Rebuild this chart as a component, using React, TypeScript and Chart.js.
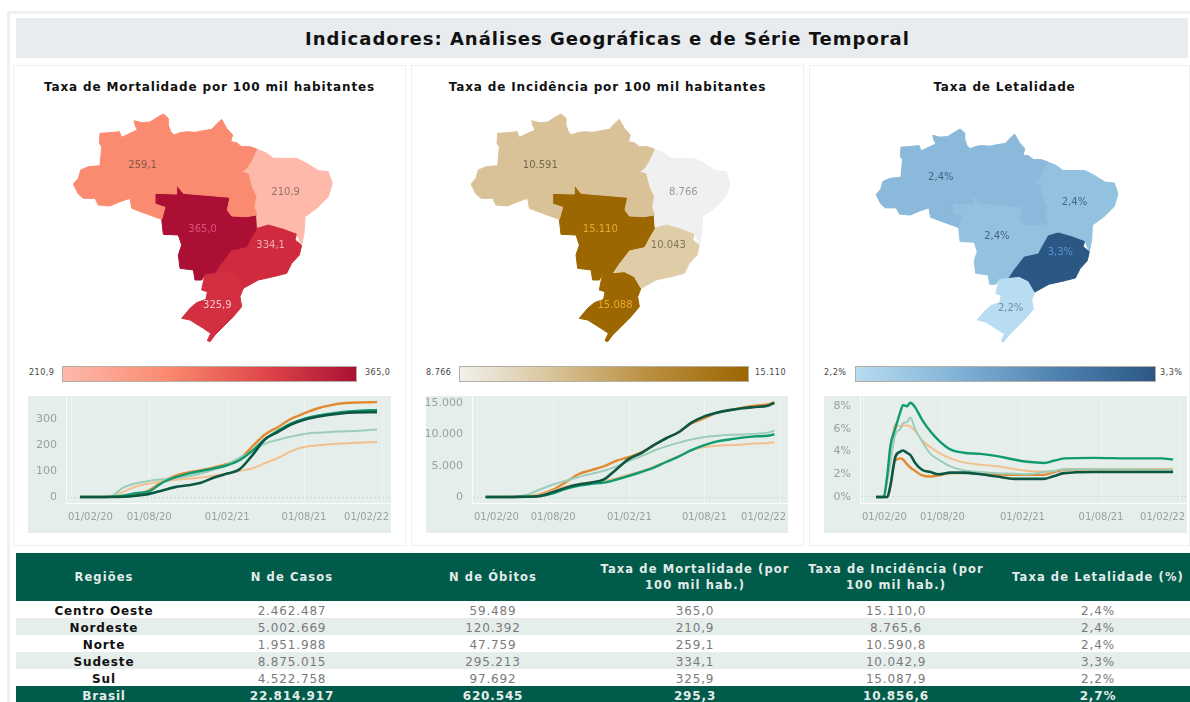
import React, { useEffect, useRef } from "react";
import { Chart, registerables } from "chart.js";

Chart.register(...registerables);

// ---------- Table data ----------
const regions = ["Centro Oeste", "Nordeste", "Norte", "Sudeste", "Sul"];
const casesCol = ["2.462.487", "5.002.669", "1.951.988", "8.875.015", "4.522.758"];
const deathsCol = ["59.489", "120.392", "47.759", "295.213", "97.692"];
const mortalityCol = ["365,0", "210,9", "259,1", "334,1", "325,9"];
const incidenceCol = ["15.110,0", "8.765,6", "10.590,8", "10.042,9", "15.087,9"];
const lethalityCol = ["2,4%", "2,4%", "2,4%", "3,3%", "2,2%"];
const totalRow = ["Brasil", "22.814.917", "620.545", "295,3", "10.856,6", "2,7%"];
const tableHeaders = [
  "Regiões",
  "N de Casos",
  "N de Óbitos",
  "Taxa de Mortalidade (por 100 mil hab.)",
  "Taxa de Incidência (por 100 mil hab.)",
  "Taxa de Letalidade (%)",
];

// ---------- Time series ----------
const xTickDays = [0, 182, 366, 547, 731];
const xTickLabels = ["01/02/20", "01/08/20", "01/02/21", "01/08/21", "01/02/22"];

const mortalityDays = [19, 60, 90, 120, 150, 182, 213, 243, 274, 304, 335, 366, 394, 425, 455, 486, 516, 547, 578, 608, 639, 669, 700, 719];
const mortalityCO = [0, 0, 1, 3, 8, 26, 58, 81, 94, 103, 114, 127, 145, 194, 240, 269, 300, 321, 340, 352, 360, 363, 364, 365];
const mortalityNE = [0, 0, 1, 20, 40, 52, 60, 66, 70, 75, 82, 90, 100, 110, 130, 150, 175, 192, 198, 203, 206, 208, 210, 211];
const mortalityN = [0, 0, 2, 35, 52, 62, 68, 74, 80, 90, 105, 125, 150, 175, 205, 220, 232, 242, 247, 250, 252, 254, 257, 259];
const mortalitySE = [0, 0, 1, 5, 15, 22, 55, 75, 90, 100, 110, 122, 140, 178, 222, 255, 282, 300, 312, 320, 327, 331, 333, 334];
const mortalityS = [0, 0, 0, 1, 5, 12, 25, 38, 45, 55, 75, 90, 105, 160, 222, 250, 278, 297, 308, 316, 322, 325, 326, 326];

const incidenceDays = [19, 60, 90, 120, 150, 182, 213, 243, 274, 304, 335, 366, 394, 425, 455, 486, 516, 547, 578, 608, 639, 669, 700, 716];
const incidenceCO = [0, 0, 30, 100, 430, 1180, 2400, 3640, 4300, 4900, 5800, 6400, 7100, 8300, 9400, 10400, 11800, 12600, 13500, 13900, 14300, 14600, 14800, 15110];
const incidenceNE = [0, 0, 30, 100, 350, 1000, 1700, 2100, 2400, 2600, 3000, 3600, 4100, 4900, 5700, 6600, 7500, 8000, 8200, 8300, 8400, 8550, 8650, 8766];
const incidenceN = [0, 0, 60, 400, 1200, 2000, 2600, 3200, 3700, 4200, 4900, 5800, 6500, 7400, 8100, 8700, 9200, 9600, 9800, 9950, 10000, 10100, 10300, 10591];
const incidenceSE = [0, 0, 10, 30, 150, 600, 1300, 1800, 2100, 2300, 2800, 3400, 4000, 4700, 5600, 6500, 7500, 8300, 8900, 9200, 9500, 9700, 9800, 10043];
const incidenceS = [0, 0, 10, 30, 150, 800, 1500, 2000, 2300, 2800, 4450, 6150, 7000, 8300, 9400, 10400, 11900, 12900, 13500, 13900, 14200, 14400, 14600, 15088];

const lethalityDays = [29, 46, 55, 62, 73, 85, 91, 100, 108, 119, 135, 154, 173, 200, 231, 270, 308, 347, 378, 416, 439, 462, 531, 608, 686, 713];
const lethalityCO = [0, 0, 0, 1, 3.2, 3.4, 3.3, 2.9, 2.6, 2.3, 1.9, 1.8, 1.9, 2.1, 2.1, 2.1, 2.0, 1.95, 1.95, 1.95, 2.2, 2.4, 2.45, 2.45, 2.45, 2.4];
const lethalityNE = [0, 0, 1.5, 4, 6.4, 6.2, 6.3, 6.3, 6.2, 5.8, 5, 4.4, 3.9, 3.4, 3.05, 2.85, 2.7, 2.45, 2.3, 2.25, 2.3, 2.45, 2.45, 2.45, 2.45, 2.4];
const lethalityN = [0, 0, 1.5, 3, 5.5, 6, 6.5, 6.6, 7.0, 6, 4.9, 3.8, 3.3, 2.7, 2.35, 2.2, 2.1, 2.05, 2.0, 2.2, 2.3, 2.45, 2.45, 2.45, 2.4, 2.4];
const lethalitySE = [0, 0, 2, 4.5, 6, 7.5, 8.1, 8, 8.3, 7.9, 6.8, 5.8, 5, 4.2, 3.9, 3.8, 3.6, 3.3, 3.1, 3.0, 3.2, 3.4, 3.45, 3.4, 3.4, 3.3];
const lethalityS = [0, 0, 0, 1, 3.5, 4, 4.1, 3.9, 3.7, 3, 2.4, 2.2, 2, 2.15, 2.15, 2, 1.8, 1.6, 1.6, 1.6, 1.85, 2.1, 2.2, 2.2, 2.2, 2.2];

// ---------- Region outlines (map units, y grows southwards) ----------
const outlineNorte = [
  [240, 100], [270, 98], [298, 95], [305, 112], [330, 100], [352, 90], [345, 75], [342, 62], [365, 68], [390, 66], [412, 52], [430, 42], [445, 55], [445, 75], [452, 95], [462, 105], [480, 98], [500, 95], [525, 97], [550, 92], [575, 88], [590, 72], [605, 58], [620, 85], [638, 105], [632, 125], [650, 128], [665, 140], [690, 140], [710, 147],
  [695, 180], [680, 205], [665, 215], [685, 222], [690, 245], [695, 262], [708, 290], [702, 320], [710, 345], [680, 350], [635, 348], [622, 330], [630, 292], [490, 280], [470, 255], [470, 282], [405, 280], [405, 312], [435, 322], [425, 358], [375, 340], [335, 325], [330, 295], [300, 305], [270, 318], [235, 315], [225, 295], [190, 295], [175, 282], [160, 252], [175, 235], [182, 210], [205, 200], [240, 197], [245, 140], [238, 130],
];
const outlineNordeste = [
  [710, 147], [740, 160], [760, 175], [830, 175], [860, 190], [895, 212], [925, 215], [937, 250], [925, 290], [890, 325], [855, 350], [852, 400], [845, 435], [830, 400], [790, 385], [745, 372], [712, 382], [710, 345], [702, 320], [708, 290], [695, 262], [690, 245], [685, 222], [665, 215], [680, 205], [695, 180],
];
const outlineCentroOeste = [
  [405, 280], [470, 282], [470, 255], [490, 280], [630, 292], [622, 330], [635, 348], [680, 350], [710, 345], [712, 382], [690, 420], [680, 440], [635, 450], [600, 495], [585, 518], [555, 522], [545, 540], [525, 540], [520, 510], [480, 505], [475, 465], [485, 435], [475, 405], [430, 403], [425, 358], [435, 322], [405, 312],
];
const outlineSudeste = [
  [712, 382], [745, 372], [790, 385], [830, 400], [825, 420], [845, 435], [838, 465], [815, 490], [800, 520], [760, 530], [715, 540], [670, 565], [650, 530], [620, 515], [585, 518], [600, 495], [635, 450], [680, 440], [690, 420],
];
const outlineSul = [
  [555, 522], [585, 518], [620, 515], [650, 530], [670, 565], [660, 590], [665, 620], [640, 650], [610, 680], [585, 705], [570, 725], [562, 722], [572, 700], [550, 685], [510, 660], [485, 655], [510, 625], [530, 608], [558, 598], [562, 575], [545, 570], [550, 545],
];
const outlines = [outlineNorte, outlineNordeste, outlineCentroOeste, outlineSudeste, outlineSul];

const labelAnchors = [[368, 197], [797, 277], [548, 388], [752, 437], [592, 617]];
const mortalityMapLabels = ["259,1", "210,9", "365,0", "334,1", "325,9"];
const incidenceMapLabels = ["10.591", "8.766", "15.110", "10.043", "15.088"];
const lethalityMapLabels = ["2,4%", "2,4%", "2,4%", "3,3%", "2,2%"];

const FONT = '"DejaVu Sans", sans-serif';
const seriesColors = { co: "#E38A2E", ne: "#F3C08C", n: "#9CCDBB", se: "#109A70", s: "#0B5743" };

const polygonPlugin = {
  id: "polygonFill",
  beforeDatasetDraw(chart: any, args: any) {
    const ds = chart.data.datasets[args.index];
    if (!ds.closedShape) return;
    const pts = chart.getDatasetMeta(args.index).data;
    const ctx = chart.ctx;
    ctx.save();
    ctx.beginPath();
    pts.forEach((p: any, i: number) => (i ? ctx.lineTo(p.x, p.y) : ctx.moveTo(p.x, p.y)));
    ctx.closePath();
    ctx.fillStyle = ds.shapeColor;
    ctx.strokeStyle = ds.shapeColor;
    ctx.lineWidth = 1;
    ctx.fill();
    ctx.stroke();
    ctx.restore();
  },
  afterDatasetsDraw(chart: any) {
    chart.data.datasets.forEach((ds: any, i: number) => {
      if (!ds.valueLabels) return;
      const ctx = chart.ctx;
      ctx.save();
      ctx.font = `10px ${FONT}`;
      ctx.textAlign = "center";
      ctx.textBaseline = "middle";
      chart.getDatasetMeta(i).data.forEach((p: any, k: number) => {
        ctx.fillStyle = ds.valueColors[k];
        ctx.fillText(ds.valueLabels[k], p.x, p.y);
      });
      ctx.restore();
    });
  },
};

function MapChart({ box, range, colors, labels, labelColors }: any) {
  const ref = useRef<HTMLCanvasElement>(null);
  useEffect(() => {
    const toPts = (a: number[][]) => a.map(([x, y]) => ({ x, y }));
    const chart = new Chart(ref.current!, {
      type: "scatter",
      data: {
        datasets: [
          ...outlines.map((o, i) => ({
            data: toPts(o),
            closedShape: true,
            shapeColor: colors[i],
            pointRadius: 0,
            showLine: false,
          })),
          {
            data: toPts(labelAnchors),
            valueLabels: labels,
            valueColors: labelColors,
            pointRadius: 0,
            showLine: false,
          },
        ] as any,
      },
      options: {
        animation: false,
        responsive: false,
        events: [],
        layout: { padding: 0 },
        plugins: { legend: { display: false }, tooltip: { enabled: false } },
        scales: {
          x: { type: "linear", display: false, min: range[0], max: range[1] },
          y: { type: "linear", display: false, min: range[2], max: range[3], reverse: true },
        },
      },
      plugins: [polygonPlugin],
    });
    return () => chart.destroy();
  }, []);
  return (
    <canvas
      ref={ref}
      width={box[2]}
      height={box[3]}
      style={{ position: "absolute", left: box[0], top: box[1], width: box[2], height: box[3] }}
    />
  );
}

// Keeps the first and last date label inside the plot area, the way the original axis does.
function clampLabels(scale: any) {
  const original = scale._computeLabelItems;
  scale._computeLabelItems = function (area: any) {
    const items = original.call(this, area);
    const ctx = this.ctx;
    items.forEach((it: any) => {
      ctx.save();
      ctx.font = it.font.string;
      const half = ctx.measureText(it.label).width / 2;
      ctx.restore();
      const t = it.options.translation;
      t[0] = Math.min(Math.max(t[0], this.left + half + 2), this.right - half - 2);
    });
    return items;
  };
}

function LineChart({ box, plotLeft, xRange, yRange, yTicks, yFormat, days, co, ne, n, se, s }: any) {
  const ref = useRef<HTMLCanvasElement>(null);
  useEffect(() => {
    const mk = (vals: number[], color: string, width: number) => ({
      data: days.map((d: number, i: number) => ({ x: d, y: vals[i] })),
      borderColor: color,
      borderWidth: width,
      pointRadius: 0,
      cubicInterpolationMode: "monotone",
    });
    const chart = new Chart(ref.current!, {
      type: "line",
      data: {
        datasets: [
          mk(s, seriesColors.s, 2.6),
          mk(se, seriesColors.se, 2.4),
          mk(n, seriesColors.n, 2),
          mk(ne, seriesColors.ne, 2),
          mk(co, seriesColors.co, 2.4),
        ] as any,
      },
      options: {
        animation: false,
        responsive: false,
        events: [],
        layout: { padding: 0 },
        plugins: { legend: { display: false }, tooltip: { enabled: false } },
        scales: {
          x: {
            type: "linear",
            min: xRange[0],
            max: xRange[1],
            afterBuildTicks: (sc: any) => {
              sc.ticks = xTickDays.map((value) => ({ value }));
              if (!sc._clamped) {
                sc._clamped = true;
                clampLabels(sc);
              }
            },
            afterFit: (sc: any) => {
              sc.height = 30;
              sc.paddingLeft = 0;
              sc.paddingRight = 0;
            },
            grid: { color: "rgba(255,255,255,0.35)", drawTicks: false },
            border: { display: true, color: "rgba(255,255,255,0.9)" },
            ticks: {
              autoSkip: false,
              maxRotation: 0,
              padding: 8,
              color: "#9a9f9f",
              font: { family: FONT, size: 10 },
              callback: (v: any) => xTickLabels[xTickDays.indexOf(v)],
            },
          },
          y: {
            type: "linear",
            min: yRange[0],
            max: yRange[1],
            afterBuildTicks: (sc: any) => {
              sc.ticks = yTicks.map((value: number) => ({ value }));
            },
            afterFit: (sc: any) => {
              sc.width = plotLeft;
              sc.paddingTop = 0;
              sc.paddingBottom = 0;
            },
            grid: {
              color: (c: any) => (c.tick && c.tick.value === 0 ? "#c2c8c6" : "rgba(0,0,0,0)"),
              drawTicks: false,
            },
            border: { display: true, color: "rgba(255,255,255,0.9)", dash: [1, 3] },
            ticks: {
              padding: 9,
              color: "#9a9f9f",
              font: { family: FONT, size: 11 },
              callback: (v: any) => yFormat(v),
            },
          },
        },
      },
    });
    return () => chart.destroy();
  }, []);
  return (
    <canvas
      ref={ref}
      width={box[2]}
      height={box[3]}
      style={{ position: "absolute", left: box[0], top: box[1], width: box[2], height: box[3], background: "#E6EEEC" }}
    />
  );
}

const abs = (l: number, t: number, w: number, h: number, extra: any = {}) => ({
  position: "absolute" as const,
  left: l,
  top: t,
  width: w,
  height: h,
  boxSizing: "border-box" as const,
  ...extra,
});

function Card({ l, w, title, shift = 0 }: any) {
  return (
    <>
      <div style={abs(l, 65, w, 481, { background: "#fff", border: "1px solid #EDF0F2" })} />
      <div
        style={abs(l + shift, 79, w, 16, {
          textAlign: "center",
          font: `bold 12px ${FONT}`,
          lineHeight: "16px",
          letterSpacing: "0.85px",
          color: "#111",
          whiteSpace: "nowrap",
        })}
      >
        {title}
      </div>
    </>
  );
}

function ColorBar({ l, w, gradient, minLabel, maxLabel, minX, maxX }: any) {
  const small = { font: `8px ${FONT}`, lineHeight: "12px", letterSpacing: "0.5px", color: "#444", whiteSpace: "nowrap" };
  return (
    <>
      <div
        style={abs(l, 366, w, 16, {
          background: `linear-gradient(to right, ${gradient})`,
          border: "1px solid #b5aea4",
        })}
      />
      <div style={abs(minX, 367, 34, 12, small)}>{minLabel}</div>
      <div style={abs(maxX, 367, 36, 12, small)}>{maxLabel}</div>
    </>
  );
}

const columnWidths = [176, 200, 202, 202, 200, 204];

export default function App() {
  const th: any = {
    background: "#005B4A",
    color: "#E4ECE9",
    font: `bold 11.5px ${FONT}`,
    letterSpacing: "1.1px",
    textAlign: "center",
    padding: "0 2px",
    lineHeight: "16px",
    height: 48,
  };
  const td = (i: number, band: boolean): any => ({
    background: band ? "#E6EEEC" : "#fff",
    color: i === 0 ? "#111" : "#7a7a7a",
    font: `${i === 0 ? "bold " : ""}12px ${FONT}`,
    letterSpacing: "0.85px",
    textAlign: "center",
    padding: "4px 0 0",
    boxSizing: "border-box",
    height: 17,
    lineHeight: "13px",
  });
  const rows = regions.map((r, i) => [r, casesCol[i], deathsCol[i], mortalityCol[i], incidenceCol[i], lethalityCol[i]]);

  return (
    <>
      <style>{`html,body{margin:0;padding:0;overflow:hidden;background:#fff}`}</style>
      <div style={{ ...abs(0, 0, 1190, 702), overflow: "hidden", background: "#fff", filter: "blur(0.45px)" }}>
        <div style={abs(7, 11, 1190, 700, { border: "3px solid #EEF1F3" })} />
        <div
          style={abs(16, 18, 1172, 40, {
            background: "#E9ECEF",
            textAlign: "center",
            font: `bold 18px ${FONT}`,
            letterSpacing: "1px",
            lineHeight: "42px",
            color: "#111",
            paddingLeft: 11,
            whiteSpace: "nowrap",
          })}
        >
          Indicadores: Análises Geográficas e de Série Temporal
        </div>

        <Card l={13} w={393} title="Taxa de Mortalidade por 100 mil habitantes" />
        <Card l={411} w={393} title="Taxa de Incidência por 100 mil habitantes" />
        <Card l={809} w={381} title="Taxa de Letalidade" shift={5} />

        <MapChart
          box={[20, 100, 380, 260]}
          range={[0, 1140, 0, 780]}
          colors={["#FB8B70", "#FEB9AB", "#AB1034", "#CF2A3E", "#D22F41"]}
          labels={mortalityMapLabels}
          labelColors={["#85594C", "#9A7068", "#E0507A", "#F2B0B8", "#F6C4C8"]}
        />
        <MapChart
          box={[420, 100, 370, 260]}
          range={[7, 1117, 0, 780]}
          colors={["#D9C297", "#F0F0F0", "#9C6600", "#DFCDA8", "#9C6600"]}
          labels={incidenceMapLabels}
          labelColors={["#75664C", "#999999", "#E8A830", "#85755A", "#E8A830"]}
        />
        <MapChart
          box={[815, 115, 370, 240]}
          range={[-36, 1152, -3, 767]}
          colors={["#8BB9DB", "#93C1E0", "#93C1E0", "#2B5785", "#B8DCF1"]}
          labels={lethalityMapLabels}
          labelColors={["#456584", "#456584", "#456584", "#5A90CC", "#728FA2"]}
        />

        <ColorBar l={62} w={295} gradient="#FEB9AB, #FB8B70 35%, #E0484A 68%, #AB1034" minLabel="210,9" maxLabel="365,0" minX={29} maxX={365} />
        <ColorBar l={459} w={290} gradient="#F2F0EC, #DAC79F 30%, #BA9040 65%, #9C6600" minLabel="8.766" maxLabel="15.110" minX={426} maxX={755} />
        <ColorBar l={855} w={301} gradient="#B8DCF1, #7FB1D6 35%, #4F81AE 68%, #2B5785" minLabel="2,2%" maxLabel="3,3%" minX={824} maxX={1160} />

        <LineChart
          box={[28, 396, 363, 137]}
          plotLeft={38}
          xRange={[-14, 752]}
          yRange={[-23, 388]}
          yTicks={[0, 100, 200, 300]}
          yFormat={(v: number) => String(v)}
          days={mortalityDays}
          co={mortalityCO}
          ne={mortalityNE}
          n={mortalityN}
          se={mortalitySE}
          s={mortalityS}
        />
        <LineChart
          box={[426, 396, 362, 137]}
          plotLeft={46}
          xRange={[-14, 749]}
          yRange={[-960, 16160]}
          yTicks={[0, 5000, 10000, 15000]}
          yFormat={(v: number) => (v === 0 ? "0" : `${v / 1000}.000`)}
          days={incidenceDays}
          co={incidenceCO}
          ne={incidenceNE}
          n={incidenceN}
          se={incidenceSE}
          s={incidenceS}
        />
        <LineChart
          box={[824, 396, 363, 137]}
          plotLeft={36}
          xRange={[-8, 745]}
          yRange={[-0.53, 8.9]}
          yTicks={[0, 2, 4, 6, 8]}
          yFormat={(v: number) => `${v}%`}
          days={lethalityDays}
          co={lethalityCO}
          ne={lethalityNE}
          n={lethalityN}
          se={lethalitySE}
          s={lethalityS}
        />

        <div style={abs(16, 553, 1174, 149, { overflow: "hidden" })}>
          <table style={{ borderCollapse: "collapse", tableLayout: "fixed", width: columnWidths.reduce((a, b) => a + b, 0) }}>
            <colgroup>
              {columnWidths.map((w, i) => (
                <col key={i} style={{ width: w }} />
              ))}
            </colgroup>
            <thead>
              <tr>
                {tableHeaders.map((h) => (
                  <th key={h} style={th}>
                    {h}
                  </th>
                ))}
              </tr>
            </thead>
            <tbody>
              {rows.map((r, ri) => (
                <tr key={ri}>
                  {r.map((c, i) => (
                    <td key={i} style={td(i, ri % 2 === 1)}>
                      {c}
                    </td>
                  ))}
                </tr>
              ))}
              <tr>
                {totalRow.map((c, i) => (
                  <td key={i} style={{ ...td(i, false), background: "#005B4A", color: "#E4ECE9", fontWeight: "bold" }}>
                    {c}
                  </td>
                ))}
              </tr>
            </tbody>
          </table>
        </div>
      </div>
    </>
  );
}
